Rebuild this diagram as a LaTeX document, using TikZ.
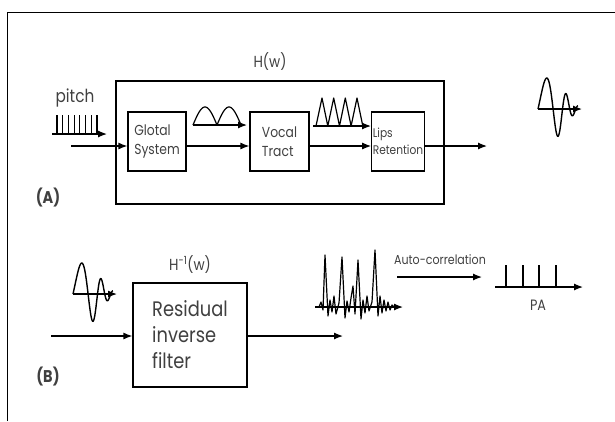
\documentclass[tikz,border=0pt]{standalone}
\usepackage{fontspec}
\setmainfont{Poppins}[FakeStretch=0.85]
\usetikzlibrary{arrows.meta,calc,positioning}

\begin{document}
\begin{tikzpicture}[x=1pt,y=-1pt,
  blk/.style={draw,line width=1.2pt,align=left,text=black!75,inner sep=1pt},
  arr/.style={line width=1.2pt,-{Latex[length=9pt,width=7pt]}},
  sig/.style={line width=1.2pt,line join=round},
  lbl/.style={text=black!75,inner sep=0pt},
  wave/.pic={
    \draw[sig,line width=1.4pt,domain=0:1,samples=120,variable=\t]
      plot ({40*\t},{-31/(1+(\t/0.7)^6)*sin(deg(5.7*\t+6.2*\t*\t+2*\t*\t*\t))});
  }]
\useasboundingbox (0,0) rectangle (615,421);
\draw[line width=0.8pt] (7,421) -- (7,12) -- (615,12);

% (A) production model
\node[draw,line width=1.2pt,minimum width=328,minimum height=123,inner sep=0pt] (hbox) at (280,142.5) {};
\node[lbl,font=\fontsize{16}{18}\selectfont] (hw) at (270,62) {H(w)};
\node[blk,minimum width=58,minimum height=59,font=\fontsize{14.5}{19}\selectfont] (glot) at (157,141.5) {Glotal\\System};
\node[blk,minimum width=59,minimum height=59,font=\fontsize{14.5}{19}\selectfont] (vocal) at (279.5,141.5) {Vocal\\Tract};
\node[blk,minimum width=50,minimum height=59,font=\fontsize{12.5}{17}\selectfont] (lips) at (398,141.5) {Lips\\Retention};
\node[lbl,font=\fontsize{18}{20}\selectfont] (pitch) at (75,98) {pitch};
\node[lbl,font=\bfseries\fontsize{17}{20}\selectfont] (lA) at (48,198) {(A)};

\coordinate (in) at (71,146);
\coordinate (out) at (487,146);
\draw[arr] (in) -- (in -| glot.west);
\draw[arr] (glot.east |- in) -- (in -| vocal.west);
\draw[arr] (vocal.east |- in) -- (in -| lips.west);
\draw[arr] (lips.east |- in) -- (out);

% pulse train
\foreach \i in {0,...,7}
  \draw[sig] ({57+\i*5.7},134) -- ++(0,-19);
\draw[arr] (52,134) -- (107,134);
% glottal humps
\draw[sig,domain=0:48,samples=80,variable=\s] plot ({193+\s},{125-18*abs(sin(180*\s/24))});
\draw[arr] (193,125) -- (247,125);
% vocal tract peaks
\draw[sig] (316,126) \foreach \p in {322,333.7,345.3,357}{ -- (\p,98) -- ({\p+5.8},126) };
\draw[arr] (313,126) -- (371,126);
% speech wave
\pic at (538,109) {wave};
\draw[arr] (538,109) -- (582,109);

% (B) inverse filtering
\node[blk,minimum width=114,minimum height=104,font=\fontsize{21}{26}\selectfont] (filt) at (190,335) {Residual\\inverse\\filter};
\node[lbl,font=\fontsize{16}{18}\selectfont] (hinv) at (190,265) {H\textsuperscript{-1}(w)};
\node[lbl,font=\bfseries\fontsize{17}{20}\selectfont] (lB) at (48,377) {(B)};
\coordinate (bin) at (51,336);
\coordinate (bout) at (343,336);
\draw[arr] (bin) -- (bin -| filt.west);
\draw[arr] (filt.east |- bin) -- (bout);
\pic at (73,294) {wave};
\draw[arr] (73,294) -- (117,294);

% residual
\draw[sig] plot coordinates {(315,307) (319,307) (321,302) (323,310) (325,255) (328,316) (330,300) (332,312) (334,296) (336,314) (339,303)
  (342,257) (345,318) (347,301) (349,312) (351,298) (353,286) (355,314) (358,260) (361,319) (363,300) (365,313)
  (367,296) (369,311) (372,302) (375,250) (378,316) (380,296) (382,313) (384,300) (386,311) (388,302) (390,310) (392,305) (394,307)};
\draw[arr] (315,307) -- (403,307);

% autocorrelation
\node[lbl,font=\fontsize{13}{15}\selectfont] (ac) at (440,260) {Auto-correlation};
\coordinate (ac1) at (397,277);
\coordinate (ac2) at (482,277);
\draw[arr] (ac1) -- (ac2);
\foreach \x in {506,523,539,556}
  \draw[sig] (\x,287) -- (\x,265);
\draw[arr] (495,287) -- (583,287);
\node[lbl,font=\fontsize{15}{17}\selectfont] (pa) at (538,305) {PA};
\end{tikzpicture}
\end{document}
